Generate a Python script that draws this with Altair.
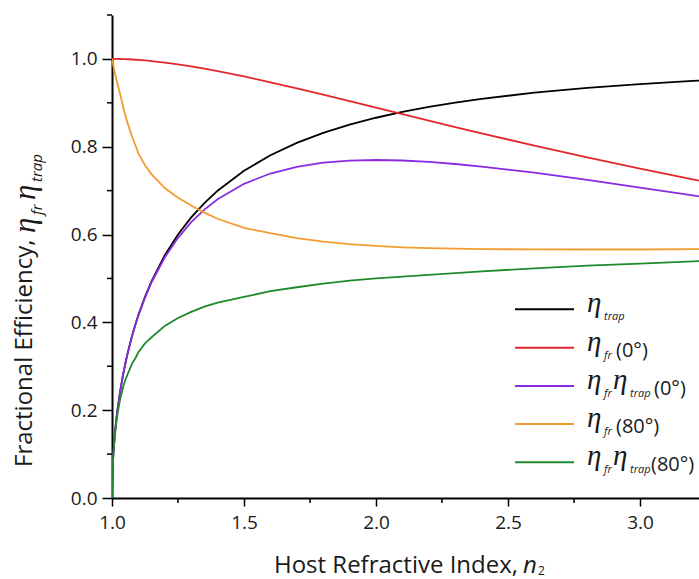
import altair as alt
import pandas as pd

# ---------------- data ----------------
n_vals = [1.0, 1.001, 1.005, 1.01, 1.015, 1.02, 1.03, 1.04, 1.05, 1.06, 1.075, 1.09,
          1.1, 1.125, 1.15, 1.2, 1.25, 1.3, 1.35, 1.4, 1.5, 1.6, 1.7, 1.8, 1.9, 2.0,
          2.1, 2.2, 2.3, 2.4, 2.6, 2.8, 3.0, 3.2, 3.25]

eta_trap = [0.0, 0.0447, 0.0996, 0.1404, 0.1713, 0.1971, 0.2396, 0.2747, 0.3049,
            0.3317, 0.3670, 0.3979, 0.4166, 0.4581, 0.4938, 0.5528, 0.6000, 0.6390,
            0.6718, 0.6999, 0.7454, 0.7806, 0.8087, 0.8315, 0.8503, 0.8660, 0.8793,
            0.8907, 0.9005, 0.9091, 0.9231, 0.9341, 0.9428, 0.9499, 0.9515]

eta_fr_0 = [1.0, 1.0, 1.0, 1.0, 0.9999, 0.9999, 0.9998, 0.9996, 0.9994, 0.9992,
            0.9987, 0.9981, 0.9977, 0.9965, 0.9951, 0.9917, 0.9877, 0.9830, 0.9778,
            0.9722, 0.9600, 0.9467, 0.9328, 0.9184, 0.9037, 0.8889, 0.8741, 0.8594,
            0.8448, 0.8304, 0.8025, 0.7756, 0.7500, 0.7256, 0.7197]

prod_0 = [0.0, 0.0447, 0.0996, 0.1404, 0.1713, 0.1971, 0.2395, 0.2746, 0.3047,
          0.3314, 0.3665, 0.3972, 0.4156, 0.4565, 0.4914, 0.5482, 0.5926, 0.6281,
          0.6569, 0.6804, 0.7156, 0.7390, 0.7543, 0.7636, 0.7684, 0.7698, 0.7686,
          0.7655, 0.7607, 0.7549, 0.7408, 0.7245, 0.7071, 0.6892, 0.6848]

eta_fr_80 = [1.0, 0.997, 0.985, 0.970, 0.957, 0.945, 0.922, 0.896, 0.872, 0.852,
             0.825, 0.801, 0.785, 0.758, 0.737, 0.706, 0.684, 0.666, 0.650, 0.636,
             0.615, 0.603, 0.592, 0.584, 0.578, 0.574, 0.571, 0.569, 0.568, 0.567,
             0.566, 0.566, 0.566, 0.567, 0.567]

prod_80 = [0.0, 0.044, 0.098, 0.138, 0.164, 0.188, 0.222, 0.248, 0.268, 0.283,
           0.305, 0.320, 0.332, 0.352, 0.366, 0.392, 0.410, 0.424, 0.436, 0.445,
           0.458, 0.471, 0.480, 0.488, 0.495, 0.500, 0.504, 0.508, 0.512, 0.516,
           0.523, 0.529, 0.534, 0.539, 0.540]

series_names = ["eta_trap", "eta_fr_0", "prod_0", "eta_fr_80", "prod_80"]
series_colors = ["#000000", "#E3262B", "#8A2BE2", "#F39C30", "#1E8A2C"]

x_major = [1.0, 1.5, 2.0, 2.5, 3.0]
x_minor = [1.25, 1.75, 2.25, 2.75]
y_major = [0.0, 0.2, 0.4, 0.6, 0.8, 1.0]
y_minor = [0.1, 0.3, 0.5, 0.7, 0.9, 1.1]

# legend label pieces: (kind, text)
legend_labels = [
    [("eta", "η"), ("sub", "trap")],
    [("eta", "η"), ("sub", "fr"), ("txt", "(0°)")],
    [("eta", "η"), ("sub", "fr"), ("eta", "η"), ("sub", "trap"), ("txt", "(0°)")],
    [("eta", "η"), ("sub", "fr"), ("txt", "(80°)")],
    [("eta", "η"), ("sub", "fr"), ("eta", "η"), ("sub", "trap"), ("txt", "(80°)")],
]
x_title = "Host Refractive Index,"
y_title = "Fractional Efficiency,"

# ---------------- layout ----------------
W, H = 587, 483
PAD_L, PAD_T = 112, 15
FONT = "Open Sans"
SERIF = "Liberation Serif"
TXT_COLOR = "#1a1a1a"

rows = []
for name, vals in zip(series_names, [eta_trap, eta_fr_0, prod_0, eta_fr_80, prod_80]):
    for n, v in zip(n_vals, vals):
        rows.append({"n": n, "value": v, "series": name})
df = pd.DataFrame(rows)

x_scale = alt.Scale(domain=[1.0, 3.2235], nice=False, zero=False)
y_scale = alt.Scale(domain=[0.0, 1.1], nice=False, zero=False)

axis_common = dict(
    format=".1f", title=None, grid=False, domainColor="black", domainWidth=2,
    tickColor="black", tickWidth=1.5, labelFont=FONT, labelFontSize=19,
    labelColor=TXT_COLOR, labelFlush=False, labelOverlap=False,
)
x_axis = alt.Axis(values=x_major, tickSize=8, labelPadding=7, orient="bottom", **axis_common)
y_axis = alt.Axis(values=y_major, tickSize=10, labelPadding=5, orient="left", **axis_common)

lines = alt.Chart(df).mark_line(strokeWidth=1.8, clip=True).encode(
    x=alt.X("n:Q", scale=x_scale, axis=x_axis),
    y=alt.Y("value:Q", scale=y_scale, axis=y_axis),
    color=alt.Color("series:N", scale=alt.Scale(domain=series_names, range=series_colors),
                    legend=None),
)

xminor = alt.Chart(pd.DataFrame({"n": x_minor})).mark_rule(
    color="black", strokeWidth=1.5).encode(
    x=alt.X("n:Q", scale=x_scale, axis=x_axis),
    y=alt.value(H), y2=alt.value(H + 5))

yminor = alt.Chart(pd.DataFrame({"value": y_minor})).mark_rule(
    color="black", strokeWidth=1.5).encode(
    y=alt.Y("value:Q", scale=y_scale, axis=y_axis),
    x=alt.value(0), x2=alt.value(-5))


def txt(text, x, y, size, font=FONT, style="normal", angle=0, align="left",
        color=TXT_COLOR):
    return alt.Chart(pd.DataFrame({"t": [text]})).mark_text(
        align=align, baseline="alphabetic", fontSize=size, font=font,
        fontStyle=style, angle=angle, color=color,
    ).encode(text="t:N", x=alt.value(x - PAD_L), y=alt.value(y - PAD_T))


layers = [lines, xminor, yminor]

# ---- manual legend ----
row_y = [309.3, 347.7, 386.0, 424.0, 462.3]
row_x = [
    [587, 604],
    [587, 604, 616],
    [587, 604, 613, 630, 654],
    [587, 604, 616],
    [587, 604, 613, 630, 651],
]
for i, (pieces, color) in enumerate(zip(legend_labels, series_colors)):
    ry = row_y[i]
    layers.append(
        alt.Chart(pd.DataFrame({"a": [0]})).mark_rule(color=color, strokeWidth=2).encode(
            x=alt.value(515 - PAD_L), x2=alt.value(574 - PAD_L),
            y=alt.value(ry - PAD_T)))
    for (kind, t), px in zip(pieces, row_x[i]):
        if kind == "eta":
            layers.append(txt(t, px, ry + 3, 29, font=SERIF, style="italic"))
        elif kind == "sub":
            layers.append(txt(t, px, ry + 11, 11, style="italic"))
        else:
            layers.append(txt(t, px, ry + 9, 20))

# ---- axis titles ----
layers.append(txt(x_title, 518, 573, 24, align="right"))
layers.append(txt("n", 523, 573, 24, style="italic"))
layers.append(txt("2", 538, 575, 12))

layers.append(txt(y_title, 32, 467, 24, angle=270))
layers.append(txt("η", 35, 233, 31, font=SERIF, style="italic", angle=270))
layers.append(txt("fr", 42, 215, 15, style="italic", angle=270))
layers.append(txt("η", 35, 200, 31, font=SERIF, style="italic", angle=270))
layers.append(txt("trap", 42, 182, 15, style="italic", angle=270))

chart = alt.layer(*layers).properties(
    width=W, height=H,
    padding={"left": PAD_L, "top": PAD_T, "right": 0, "bottom": 579 - PAD_T - H},
    autosize=alt.AutoSizeParams(type="none"),
    background="white",
).configure_view(stroke=None)

chart.save("out.html", embed_options={"renderer": "svg", "actions": False})
